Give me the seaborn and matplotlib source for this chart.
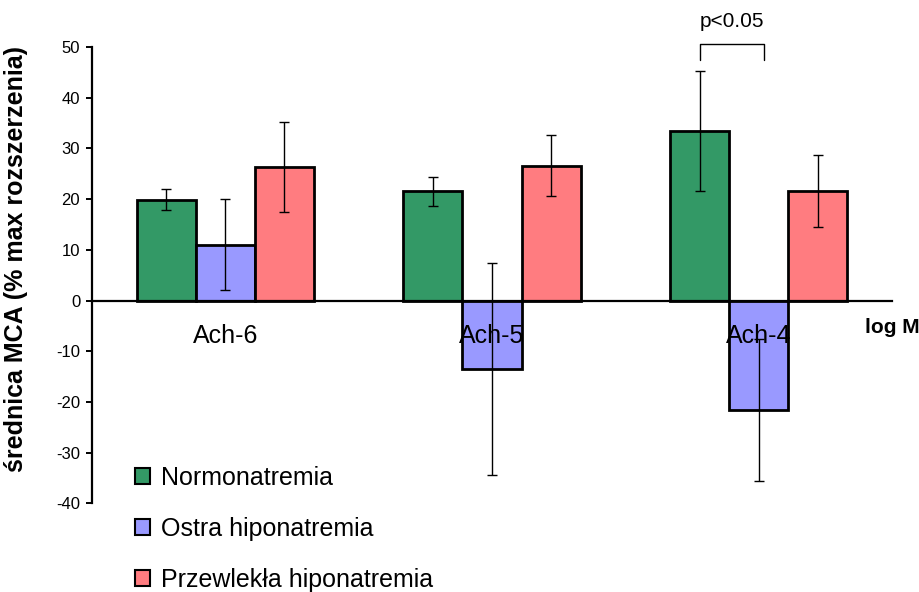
import matplotlib
matplotlib.use("Agg")
import matplotlib.pyplot as plt
from matplotlib.patches import Patch
import numpy as np
import pandas as pd
import seaborn as sns

# Concentrations of acetylcholine (log M)
categories = ["Ach-6", "Ach-5", "Ach-4"]
groups = ["Normonatremia", "Ostra hiponatremia", "Przewlekła hiponatremia"]

# Mean MCA diameter change (% of max dilation) and error per group
normo = [19.9, 21.5, 33.4]
normo_err = [2.0, 2.9, 11.9]
ostra = [11.0, -13.5, -21.6]
ostra_err = [9.0, 20.9, 14.0]
przew = [26.3, 26.6, 21.5]
przew_err = [8.9, 6.0, 7.1]

yticks = [-40, -30, -20, -10, 0, 10, 20, 30, 40, 50]
colors = ["#339966", "#9999FF", "#FF7C80"]

df = pd.DataFrame({
    "kategoria": categories * 3,
    "grupa": np.repeat(groups, 3),
    "wartosc": normo + ostra + przew,
})
means = [normo, ostra, przew]
errors = [normo_err, ostra_err, przew_err]

sns.set_style("white")
plt.rcParams["font.family"] = ["Liberation Sans", "DejaVu Sans"]
plt.rcParams.update({
    "text.color": "black", "axes.labelcolor": "black",
    "xtick.color": "black", "ytick.color": "black",
    "axes.edgecolor": "black",
})

fig = plt.figure(figsize=(9.2, 5.92), dpi=100)
ax = fig.add_axes([92 / 920, 1 - 503.3 / 592, 800 / 920, (503.3 - 47) / 592])

sns.barplot(
    data=df, x="kategoria", y="wartosc", hue="grupa",
    order=categories, hue_order=groups, palette=colors,
    width=0.664, gap=0, errorbar=None, edgecolor="black",
    linewidth=2.0, saturation=1, ax=ax, legend=False, zorder=1,
)

# Error bars centred on each bar
for cont, m, err in zip(ax.containers, means, errors):
    xs = [b.get_x() + b.get_width() / 2 for b in cont]
    ax.errorbar(xs, m, yerr=err, fmt="none", ecolor="black",
                elinewidth=1.0, capsize=3.3, capthick=1.0, zorder=3)

ax.set_xlim(-0.5, 2.5)
ax.set_ylim(-40, 50)
ax.set_yticks(yticks)
ax.set_yticklabels([str(t) for t in yticks])

for s in ["top", "right"]:
    ax.spines[s].set_visible(False)
ax.spines["bottom"].set_position(("data", 0))
ax.spines["bottom"].set_linewidth(1.6)
ax.spines["left"].set_linewidth(1.6)
ax.spines["bottom"].set_zorder(2)

ax.tick_params(axis="y", direction="out", length=4.5, width=1.4,
               labelsize=12, pad=4, left=True)
ax.tick_params(axis="x", length=0, pad=17, labelsize=18)
ax.xaxis.set_zorder(5)
ax.set_xlabel("")
ax.set_ylabel("średnica MCA (% max rozszerzenia)", fontsize=18,
              fontweight="bold")
ax.yaxis.set_label_coords(-0.08, 0.535)

ax.text(2.4, -5.4, "log M", fontsize=15, fontweight="bold",
        ha="left", va="center")

# Significance bracket between Normonatremia and Ostra hiponatremia at Ach-4
g_bar = ax.containers[0][2]
o_bar = ax.containers[1][2]
x1 = g_bar.get_x() + g_bar.get_width() / 2
x2 = o_bar.get_x() + o_bar.get_width() / 2 + 0.02
ax.plot([x1, x1, x2, x2], [47.4, 50.6, 50.6, 47.4], color="black",
        lw=1.0, clip_on=False)
ax.text((x1 + x2) / 2, 55.0, "p<0.05", fontsize=15, ha="center",
        va="center")

handles = [Patch(facecolor=c, edgecolor="black", linewidth=1.5) for c in colors]
fig.legend(handles, groups, loc="upper left",
           bbox_to_anchor=(135 / 920, 1 - 466 / 592), frameon=False,
           fontsize=18, handlelength=0.6, handleheight=0.6,
           handletextpad=0.45, labelspacing=1.07, borderpad=0,
           borderaxespad=0)

fig.savefig("out.png", dpi=100)
